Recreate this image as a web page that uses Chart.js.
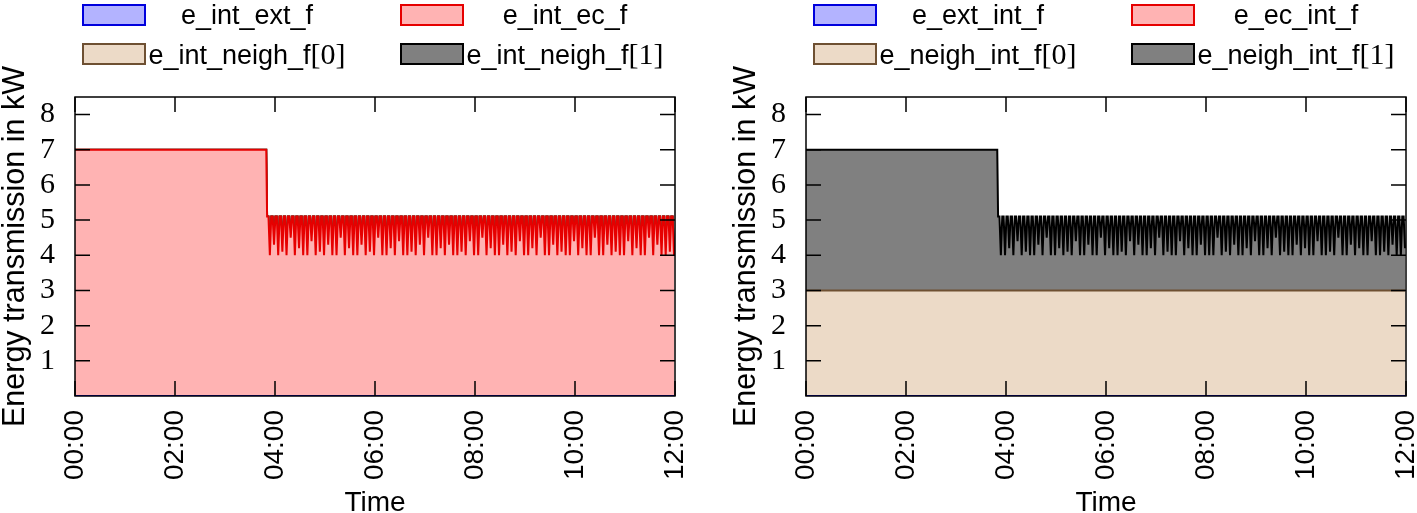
<!DOCTYPE html>
<html>
<head>
<meta charset="utf-8">
<script src="https://cdn.jsdelivr.net/npm/chart.js@4/dist/chart.umd.min.js"></script>
<style>
body { margin:0; background:#fff; width:1417px; height:513px; overflow:hidden; font-family:"Liberation Sans", sans-serif; }
.panel { position:absolute; top:0; height:513px; }
.panel canvas { position:absolute; left:0; top:0; }
.keybox { position:absolute; width:64px; height:22px; box-sizing:border-box; border:2px solid; }
.keytxt { position:absolute; font-size:27px; line-height:30px; white-space:nowrap; transform:translateX(-50%); color:#000; }
.keytxt .br { font-family:"Liberation Serif", serif; font-size:30px; }
</style>
</head>
<body>
<div class="panel" id="pl" style="left:0;width:700px"><canvas id="cl" width="700" height="513"></canvas></div>
<div class="panel" id="pr" style="left:731px;width:686px"><canvas id="cr" width="686" height="513"></canvas></div>
<script>
// ---- data ----
const labelsLeft  = ['e_int_ext_f', 'e_int_ec_f', 'e_int_neigh_f[0]', 'e_int_neigh_f[1]'];
const labelsRight = ['e_ext_int_f', 'e_ec_int_f', 'e_neigh_int_f[0]', 'e_neigh_int_f[1]'];

const xTickValues = [0, 120, 240, 360, 480, 600, 720];   // minutes
const xTickLabels = ['00:00', '02:00', '04:00', '06:00', '08:00', '10:00', '12:00'];
const yTickValues = [1, 2, 3, 4, 5, 6, 7, 8];

const plateauEndMin = 229.5;  // last sample before the step down
const oscStartMin = 230.5;    // first sample after the step
const oscStepMin = 5 / 3;     // sample spacing in the oscillating part

// level of each series before the step (kW)
const beforeLeft  = [0, 7, 0, 0];
const beforeRight = [0, 0, 3, 4];

// e_int_ec_f after the step
const ecAfter = [
  5.1,5.1,4.0, 5.1,5.1,4.3, 5.1,5.1,4.0, 5.1,5.1,4.1, 5.1,5.1,4.0, 5.1,5.1,4.5, 5.1,5.1,4.0, 5.1,5.1,4.2, 5.1,5.1,4.0, 5.1,5.1,4.0,
  5.1,5.1,4.4, 5.1,5.1,4.0, 5.1,5.1,4.1, 5.1,5.1,4.0, 5.1,5.1,4.3, 5.1,5.1,4.0, 5.1,5.1,4.0, 5.1,5.1,4.5, 5.1,5.1,4.0, 5.1,5.1,4.2,
  5.1,5.1,4.0, 5.1,5.1,4.0, 5.1,5.1,4.3, 5.1,5.1,4.0, 5.1,5.1,4.1, 5.1,5.1,4.0, 5.1,5.1,4.5, 5.1,5.1,4.0, 5.1,5.1,4.0, 5.1,5.1,4.2,
  5.1,5.1,4.0, 5.1,5.1,4.4, 5.1,5.1,4.0, 5.1,5.1,4.0, 5.1,5.1,4.1, 5.1,5.1,4.0, 5.1,5.1,4.3, 5.1,5.1,4.0, 5.1,5.1,4.5, 5.1,5.1,4.0,
  5.1,5.1,4.0, 5.1,5.1,4.2, 5.1,5.1,4.0, 5.1,5.1,4.3, 5.1,5.1,4.0, 5.1,5.1,4.0, 5.1,5.1,4.1, 5.1,5.1,4.0, 5.1,5.1,4.4, 5.1,5.1,4.0,
  5.1,5.1,4.0, 5.1,5.1,4.5, 5.1,5.1,4.0, 5.1,5.1,4.2, 5.1,5.1,4.0, 5.1,5.1,4.0, 5.1,5.1,4.3, 5.1,5.1,4.0, 5.1,5.1,4.1, 5.1,5.1,4.0,
  5.1,5.1,4.4, 5.1,5.1,4.0, 5.1,5.1,4.0, 5.1,5.1,4.2, 5.1,5.1,4.0, 5.1,5.1,4.5, 5.1,5.1,4.0, 5.1,5.1,4.0, 5.1,5.1,4.3, 5.1,5.1,4.0,
  5.1,5.1,4.1, 5.1,5.1,4.0, 5.1,5.1,4.0, 5.1,5.1,4.4, 5.1,5.1,4.0, 5.1,5.1,4.2, 5.1,5.1,4.0, 5.1,5.1,4.0, 5.1,5.1,4.5, 5.1,5.1,4.0,
  5.1,5.1,4.0, 5.1,5.1,4.3, 5.1,5.1,4.0, 5.1,5.1,4.1, 5.1,5.1,4.0, 5.1,5.1,4.0, 5.1,5.1,4.4, 5.1,5.1,4.0, 5.1,5.1,4.2, 5.1,5.1,4.0,
  5.1,5.1,4.0, 5.1,5.1,4.5, 5.1,5.1,4.0, 5.1,5.1,4.3, 5.1,5.1,4.0, 5.1,5.1,4.0, 5.1,5.1,4.1, 5.1,5.1,4.0
];

// e_neigh_int_f[1] after the step
const neigh1After = [
  2.1,2.1,1.0, 2.1,2.1,1.0, 2.1,2.1,1.2, 2.1,2.1,1.0, 2.1,2.1,1.4, 2.1,2.1,1.0, 2.1,2.1,1.1, 2.1,2.1,1.0, 2.1,2.1,1.0, 2.1,2.1,1.3,
  2.1,2.1,1.0, 2.1,2.1,1.5, 2.1,2.1,1.0, 2.1,2.1,1.0, 2.1,2.1,1.2, 2.1,2.1,1.0, 2.1,2.1,1.1, 2.1,2.1,1.0, 2.1,2.1,1.4, 2.1,2.1,1.0,
  2.1,2.1,1.0, 2.1,2.1,1.3, 2.1,2.1,1.0, 2.1,2.1,1.0, 2.1,2.1,1.5, 2.1,2.1,1.0, 2.1,2.1,1.2, 2.1,2.1,1.0, 2.1,2.1,1.0, 2.1,2.1,1.1,
  2.1,2.1,1.0, 2.1,2.1,1.4, 2.1,2.1,1.0, 2.1,2.1,1.3, 2.1,2.1,1.0, 2.1,2.1,1.0, 2.1,2.1,1.2, 2.1,2.1,1.0, 2.1,2.1,1.5, 2.1,2.1,1.0,
  2.1,2.1,1.1, 2.1,2.1,1.0, 2.1,2.1,1.0, 2.1,2.1,1.4, 2.1,2.1,1.0, 2.1,2.1,1.2, 2.1,2.1,1.0, 2.1,2.1,1.0, 2.1,2.1,1.3, 2.1,2.1,1.0,
  2.1,2.1,1.0, 2.1,2.1,1.0, 2.1,2.1,1.5, 2.1,2.1,1.0, 2.1,2.1,1.1, 2.1,2.1,1.0, 2.1,2.1,1.3, 2.1,2.1,1.0, 2.1,2.1,1.0, 2.1,2.1,1.2,
  2.1,2.1,1.0, 2.1,2.1,1.4, 2.1,2.1,1.0, 2.1,2.1,1.0, 2.1,2.1,1.2, 2.1,2.1,1.0, 2.1,2.1,1.5, 2.1,2.1,1.0, 2.1,2.1,1.1, 2.1,2.1,1.0,
  2.1,2.1,1.0, 2.1,2.1,1.3, 2.1,2.1,1.0, 2.1,2.1,1.2, 2.1,2.1,1.0, 2.1,2.1,1.0, 2.1,2.1,1.4, 2.1,2.1,1.0, 2.1,2.1,1.0, 2.1,2.1,1.1,
  2.1,2.1,1.0, 2.1,2.1,1.5, 2.1,2.1,1.0, 2.1,2.1,1.0, 2.1,2.1,1.3, 2.1,2.1,1.0, 2.1,2.1,1.2, 2.1,2.1,1.0, 2.1,2.1,1.0, 2.1,2.1,1.4,
  2.1,2.1,1.0, 2.1,2.1,1.0, 2.1,2.1,1.1, 2.1,2.1,1.0, 2.1,2.1,1.3, 2.1,2.1,1.0, 2.1,2.1,1.0, 2.1,2.1,1.2
];

// level of each series after the step (arrays = sampled values)
const afterLeft  = [0, ecAfter, 0, 0];
const afterRight = [0, 0, 3, neigh1After];

const fillColors   = ['#b3b3ff', '#ffb3b3', '#ecdac7', '#808080'];
const borderColors = ['#0000dd', '#e60000', '#6e5032', '#000000'];

// ---- helpers ----
function timeGrid(n) {
  const t = [0, plateauEndMin];
  for (let i = 0; i < n; i++) t.push(oscStartMin + i * oscStepMin);
  return t;
}

function seriesPoints(times, before, after) {
  return times.map(function(t, i) {
    var y = i < 2 ? before : (Array.isArray(after) ? after[i - 2] : after);
    return {x: t, y: y};
  });
}

// gnuplot-like frame with inward, mirrored ticks
const framePlugin = {
  id: 'frame',
  afterDatasetsDraw(chart) {
    const ctx = chart.ctx, a = chart.chartArea, xs = chart.scales.x, ys = chart.scales.y;
    ctx.save();
    ctx.strokeStyle = '#000';
    ctx.lineWidth = 1.5;
    ctx.beginPath();
    yTickValues.forEach(function(v) {
      const py = ys.getPixelForValue(v);
      ctx.moveTo(a.left, py); ctx.lineTo(a.left + 15, py);
      ctx.moveTo(a.right, py); ctx.lineTo(a.right - 15, py);
    });
    xTickValues.forEach(function(v) {
      const px = xs.getPixelForValue(v);
      ctx.moveTo(px, a.bottom); ctx.lineTo(px, a.bottom - 15);
      ctx.moveTo(px, a.top); ctx.lineTo(px, a.top + 15);
    });
    ctx.stroke();
    ctx.strokeRect(a.left, a.top, a.right - a.left, a.bottom - a.top);
    ctx.restore();
  }
};

function buildLegend(panelId, labels) {
  const panel = document.getElementById(panelId);
  const boxX = [82, 400], boxY = [4, 43], textX = [247, 565];
  labels.forEach(function(lab, i) {
    const col = i % 2, row = Math.floor(i / 2);
    const box = document.createElement('div');
    box.className = 'keybox';
    box.style.left = boxX[col] + 'px';
    box.style.top = boxY[row] + 'px';
    box.style.background = fillColors[i];
    box.style.borderColor = borderColors[i];
    panel.appendChild(box);
    const txt = document.createElement('div');
    txt.className = 'keytxt';
    txt.style.left = textX[col] + 'px';
    txt.style.top = (boxY[row] - 4) + 'px';
    const k = lab.indexOf('[');
    if (k >= 0) {
      txt.appendChild(document.createTextNode(lab.slice(0, k)));
      const sp = document.createElement('span');
      sp.className = 'br';
      sp.textContent = lab.slice(k);
      txt.appendChild(sp);
    } else {
      txt.textContent = lab;
    }
    panel.appendChild(txt);
  });
}

function buildChart(canvasId, labels, before, after, oscLen, padRight) {
  const times = timeGrid(oscLen);
  const datasets = labels.map(function(lab, i) {
    return {
      label: lab,
      data: seriesPoints(times, before[i], after[i]),
      backgroundColor: fillColors[i],
      borderColor: borderColors[i],
      borderWidth: 2,
      pointRadius: 0,
      tension: 0,
      fill: i === 0 ? 'origin' : '-1'
    };
  });
  return new Chart(document.getElementById(canvasId), {
    type: 'line',
    data: {datasets: datasets},
    options: {
      responsive: false,
      animation: false,
      layout: {padding: {top: 97, right: padRight, left: 0, bottom: 0}},
      plugins: {legend: {display: false}, tooltip: {enabled: false}},
      scales: {
        x: {
          type: 'linear', min: 0, max: 720,
          grid: {display: false}, border: {display: false},
          afterBuildTicks: function(s) { s.ticks = xTickValues.map(function(v) { return {value: v}; }); },
          afterFit: function(s) { s.height = 117; s.paddingLeft = 0; s.paddingRight = 0; },
          ticks: {
            autoSkip: false, minRotation: 90, maxRotation: 90, padding: 6, color: '#000',
            font: {family: 'Liberation Sans', size: 28},
            callback: function(v) { return xTickLabels[xTickValues.indexOf(v)]; }
          },
          title: {display: true, text: 'Time', color: '#000', padding: {top: 0, bottom: 0},
                  font: {family: 'Liberation Sans', size: 28, lineHeight: 0.7}}
        },
        y: {
          type: 'linear', min: 0, max: 8.5, stacked: true,
          grid: {display: false}, border: {display: false},
          afterBuildTicks: function(s) { s.ticks = yTickValues.map(function(v) { return {value: v}; }); },
          afterFit: function(s) { s.width = 75; s.paddingTop = 0; s.paddingBottom = 0; },
          ticks: {padding: 12, color: '#000', font: {family: 'Liberation Serif', size: 30}},
          title: {display: true, text: 'Energy transmission in kW', color: '#000', padding: 0,
                  font: {family: 'Liberation Sans', size: 30.5, lineHeight: 1}}
        }
      }
    },
    plugins: [framePlugin]
  });
}

buildLegend('pl', labelsLeft);
buildLegend('pr', labelsRight);
buildChart('cl', labelsLeft, beforeLeft, afterLeft, ecAfter.length, 25);
buildChart('cr', labelsRight, beforeRight, afterRight, neigh1After.length, 11);
</script>
</body>
</html>
